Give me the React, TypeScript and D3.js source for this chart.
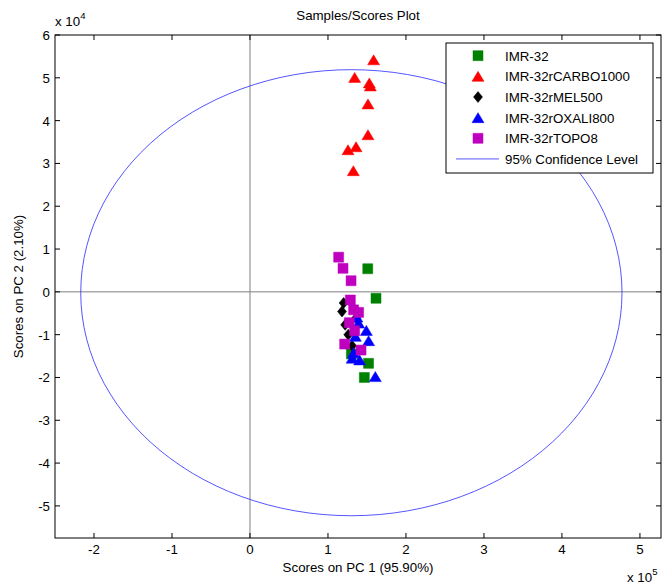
import React from 'react';
import * as d3 from 'd3';

// ---- data (PC1 in units of 1e5, PC2 in units of 1e4) ----
const SERIES_NAMES = ['IMR-32', 'IMR-32rCARBO1000', 'IMR-32rMEL500', 'IMR-32rOXALI800', 'IMR-32rTOPO8'];
const SERIES_COLORS = ['#008000', '#ff0000', '#000000', '#0000ff', '#bf00bf'];
const SERIES_SHAPES = ['square', 'triangle', 'diamond', 'triangle', 'square'];

const IMR32: [number, number][] = [
  [1.51, 0.54], [1.616, -0.15], [1.30, -1.45], [1.52, -1.67], [1.466, -2.0],
];
const CARBO1000: [number, number][] = [
  [1.585, 5.42], [1.342, 5.01], [1.53, 4.88], [1.543, 4.81], [1.513, 4.39],
  [1.513, 3.67], [1.36, 3.39], [1.257, 3.32], [1.325, 2.83],
];
const MEL500: [number, number][] = [
  [1.201, -0.26], [1.18, -0.46], [1.36, -0.61], [1.22, -0.77], [1.26, -1.0], [1.309, -1.26],
];
const OXALI800: [number, number][] = [
  [1.37, -0.59], [1.393, -0.73], [1.492, -0.9], [1.351, -1.04], [1.521, -1.14],
  [1.329, -1.42], [1.31, -1.55], [1.406, -1.59], [1.607, -1.98],
];
const TOPO8: [number, number][] = [
  [1.137, 0.81], [1.193, 0.55], [1.296, 0.26], [1.287, -0.19], [1.329, -0.42],
  [1.393, -0.48], [1.274, -0.72], [1.342, -0.91], [1.214, -1.22], [1.424, -1.36],
];
const SERIES_DATA = [IMR32, CARBO1000, MEL500, OXALI800, TOPO8];

// 95% confidence ellipse: center and semi-axes (PC1 1e5, PC2 1e4)
const ELLIPSE_CENTER: [number, number] = [1.30, -0.02];
const ELLIPSE_RADII: [number, number] = [3.47, 5.21];

const X_TICKS = [-2, -1, 0, 1, 2, 3, 4, 5];
const Y_TICKS = [-5, -4, -3, -2, -1, 0, 1, 2, 3, 4, 5, 6];
const X_DOMAIN: [number, number] = [-2.5, 5.27];
const Y_DOMAIN: [number, number] = [-5.75, 6];

const FONT = '"Liberation Sans", Arial, Helvetica, sans-serif';
const FS = 13.3;

function markerPath(shape: string, cx: number, cy: number): string {
  if (shape === 'square') {
    const s = 5;
    return `M${cx - s},${cy - s}H${cx + s}V${cy + s}H${cx - s}Z`;
  }
  if (shape === 'triangle') {
    const hw = 6, hh = 5;
    return `M${cx},${cy - hh}L${cx + hw},${cy + hh}L${cx - hw},${cy + hh}Z`;
  }
  // diamond
  const hw = 4.5, hh = 5.5;
  return `M${cx},${cy - hh}L${cx + hw},${cy}L${cx},${cy + hh}L${cx - hw},${cy}Z`;
}

export default function App() {
  const W = 663, H = 584;
  const L = 55, R = 661, T = 35, B = 538;
  const x = d3.scaleLinear().domain(X_DOMAIN).range([L, R]);
  const y = d3.scaleLinear().domain(Y_DOMAIN).range([B, T]);

  const ellipsePts = d3.range(0, 361, 3).map((deg) => {
    const t = (deg * Math.PI) / 180;
    return [ELLIPSE_CENTER[0] + ELLIPSE_RADII[0] * Math.cos(t), ELLIPSE_CENTER[1] + ELLIPSE_RADII[1] * Math.sin(t)] as [number, number];
  });
  const line = d3.line<[number, number]>().x((d) => x(d[0])).y((d) => y(d[1]));

  const tick = 5;
  const legX = 446, legY = 43, legW = 207, legH = 130;
  const rowY = (i: number) => 55.7 + i * 20.65;

  return (
    <svg width={W} height={H} style={{ position: 'absolute', left: 0, top: 0, display: 'block', background: '#fff' }} fontFamily={FONT}>
      <defs>
        <clipPath id="plotclip">
          <rect x={L} y={T} width={R - L} height={B - T} />
        </clipPath>
      </defs>
      <rect x={0} y={0} width={W} height={H} fill="#fff" />
      <rect x={L} y={T} width={R - L} height={B - T} fill="#fff" />

      <g clipPath="url(#plotclip)">
        {/* zero lines */}
        <line x1={x(0)} x2={x(0)} y1={T} y2={B} stroke="#808080" strokeWidth={1} />
        <line x1={L} x2={R} y1={y(0)} y2={y(0)} stroke="#808080" strokeWidth={1} />
        {/* confidence ellipse */}
        <path d={line(ellipsePts) || ''} fill="none" stroke="#2a2aff" strokeWidth={0.8} />
        {/* points */}
        {SERIES_DATA.map((pts, si) => (
          <g key={si}>
            {pts.map((p, i) => (
              <path key={i} d={markerPath(SERIES_SHAPES[si], x(p[0]), y(p[1]))} fill={SERIES_COLORS[si]} stroke={SERIES_COLORS[si]} strokeWidth={0.5} />
            ))}
          </g>
        ))}
      </g>

      {/* axes box */}
      <rect x={L} y={T} width={R - L} height={B - T} fill="none" stroke="#000" strokeWidth={1} />

      {/* ticks */}
      {X_TICKS.map((t) => (
        <g key={'x' + t}>
          <line x1={x(t)} x2={x(t)} y1={B} y2={B - tick} stroke="#000" />
          <line x1={x(t)} x2={x(t)} y1={T} y2={T + tick} stroke="#000" />
          <text x={x(t)} y={B + 16} fontSize={FS} textAnchor="middle">{t}</text>
        </g>
      ))}
      {Y_TICKS.map((t) => (
        <g key={'y' + t}>
          <line x1={L} x2={L + tick} y1={y(t)} y2={y(t)} stroke="#000" />
          <line x1={R} x2={R - tick} y1={y(t)} y2={y(t)} stroke="#000" />
          <text x={L - 5} y={y(t) + 5} fontSize={FS} textAnchor="end">{t}</text>
        </g>
      ))}

      {/* exponents */}
      <text x={55} y={26} fontSize={FS}>
        x 10<tspan dy={-7} fontSize={9.5}>4</tspan>
      </text>
      <text x={627} y={582} fontSize={FS}>
        x 10<tspan dy={-7} fontSize={9.5}>5</tspan>
      </text>

      {/* title & labels */}
      <text x={(L + R) / 2} y={20} fontSize={FS} textAnchor="middle">Samples/Scores Plot</text>
      <text x={(L + R) / 2} y={572} fontSize={FS} textAnchor="middle">Scores on PC 1 (95.90%)</text>
      <text transform={`translate(23, ${(T + B) / 2}) rotate(-90)`} fontSize={FS} textAnchor="middle">Scores on PC 2 (2.10%)</text>

      {/* legend */}
      <rect x={legX} y={legY} width={legW} height={legH} fill="#fff" stroke="#000" strokeWidth={1} />
      {SERIES_NAMES.map((name, i) => (
        <g key={name}>
          <path d={markerPath(SERIES_SHAPES[i], 478, rowY(i))} fill={SERIES_COLORS[i]} stroke={SERIES_COLORS[i]} strokeWidth={0.5} />
          <text x={505} y={rowY(i) + 5} fontSize={FS}>{name}</text>
        </g>
      ))}
      <line x1={456} x2={499} y1={rowY(5)} y2={rowY(5)} stroke="#2a2aff" strokeWidth={0.8} />
      <text x={505} y={rowY(5) + 5} fontSize={FS}>95% Confidence Level</text>
    </svg>
  );
}
